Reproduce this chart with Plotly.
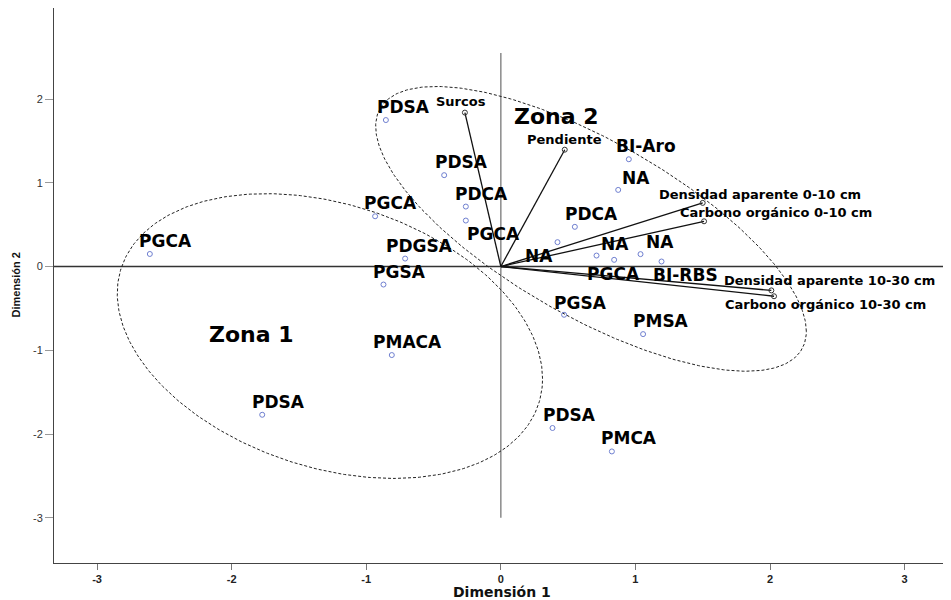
import numpy as np
import plotly.graph_objects as go

# ---------------- data ----------------
point_labels = ["PGCA", "PDSA", "PDSA", "PDCA", "PGCA", "PGCA", "PDGSA", "PGSA",
                "PMACA", "PDSA", "PDSA", "PMCA", "PGSA", "PMSA", "BI-Aro", "NA",
                "PDCA", "NA", "NA", "PGCA", "NA", "BI-RBS"]
dim1 = [-2.608, -0.854, -0.421, -0.260, -0.260, -0.934, -0.711, -0.872,
        -0.810, -1.773, 0.384, 0.825, 0.470, 1.057, 0.951, 0.872,
        0.550, 0.421, 0.711, 0.842, 1.038, 1.194]
dim2 = [0.150, 1.749, 1.091, 0.716, 0.549, 0.600, 0.095, -0.215,
        -1.057, -1.770, -1.928, -2.208, -0.576, -0.807, 1.281, 0.915,
        0.474, 0.291, 0.131, 0.080, 0.148, 0.060]

var_labels = ["Surcos", "Pendiente", "Densidad aparente 0-10 cm",
              "Carbono orgánico 0-10 cm", "Densidad aparente 10-30 cm",
              "Carbono orgánico 10-30 cm"]
var_dim1 = [-0.267, 0.475, 1.50, 1.51, 2.01, 2.03]
var_dim2 = [1.838, 1.395, 0.76, 0.54, -0.285, -0.355]

zone_labels = ["Zona 1", "Zona 2"]
zone_cx = [-1.27, 0.67]
zone_cy = [-0.83, 0.45]
zone_hw = [1.58, 1.60]
zone_hh = [1.70, 1.70]
zone_rho = [-0.30, -0.72]
zone_text_x = [-2.18, 0.082]
zone_text_y = [-0.815, 1.796]

x_ticks = [-3, -2, -1, 0, 1, 2, 3]
y_ticks = [-3, -2, -1, 0, 1, 2]

# ---------------- label placement (pixels: dx to left edge, dy, anchor) ----------------
point_label_offsets = [
    (-12, 6, "b"), (-10, 6, "b"), (-10, 6, "b"), (-12, 6, "b"), (0, 5, "t"),
    (-12, 6, "b"), (-20, 6, "b"), (-11, 6, "b"), (-20, 6, "b"), (-11, 6, "b"),
    (-11, 6, "b"), (-12, 6, "b"), (-11, 5, "b"), (-11, 6, "b"), (-14, 6, "b"),
    (3, 5, "b"), (-11, 6, "b"), (-33, 6, "t"), (3, 5, "b"), (-28, 6, "t"),
    (4, 5, "b"), (-10, 5, "t"),
]
var_label_offsets = [
    ("center", -4, 2, "bottom"), ("center", 0, 1, "bottom"),
    ("left", -46, -1, "bottom"), ("left", -26, -1, "bottom"),
    ("left", -49, 0, "bottom"), ("left", -51, 1, "top"),
]

PT_FONT = dict(family="DejaVu Sans", size=17, color="#000", weight="bold")
VAR_FONT = dict(family="DejaVu Sans", size=13, color="#000", weight="bold")

fig = go.Figure()

# zone ellipses
t = np.linspace(0, 2 * np.pi, 361)
for cx, cy, hw, hh, rho in zip(zone_cx, zone_cy, zone_hw, zone_hh, zone_rho):
    ex = cx + hw * np.cos(t)
    ey = cy + hh * (rho * np.cos(t) + np.sqrt(1 - rho ** 2) * np.sin(t))
    fig.add_trace(go.Scatter(x=ex, y=ey, mode="lines", hoverinfo="skip",
                             line=dict(color="#222", width=1, dash="3px,2px"),
                             showlegend=False))

# variable vectors
for vx, vy in zip(var_dim1, var_dim2):
    fig.add_trace(go.Scatter(x=[0, vx], y=[0, vy], mode="lines",
                             line=dict(color="#111", width=1.3),
                             showlegend=False, hoverinfo="skip"))
fig.add_trace(go.Scatter(x=var_dim1, y=var_dim2, mode="markers",
                         marker=dict(symbol="circle-open", size=5,
                                     color="#333", line=dict(width=1)),
                         text=var_labels, showlegend=False))

# object points
fig.add_trace(go.Scatter(x=dim1, y=dim2, mode="markers",
                         marker=dict(symbol="circle-open", size=5,
                                     color="#6f7fd0", line=dict(width=1)),
                         text=point_labels, showlegend=False))

annotations = []
for lab, px, py, (dx, dy, anc) in zip(point_labels, dim1, dim2, point_label_offsets):
    if anc == "b":
        ys = dy - 5
        ya = "bottom"
    else:
        ys = -(dy - 4)
        ya = "top"
    annotations.append(dict(x=px, y=py, xref="x", yref="y", text=lab,
                            showarrow=False, xanchor="left", yanchor=ya,
                            xshift=dx - 1, yshift=ys, font=PT_FONT))
for lab, vx, vy, (xa, dx, dy, ya) in zip(var_labels, var_dim1, var_dim2, var_label_offsets):
    annotations.append(dict(x=vx, y=vy, xref="x", yref="y", text=lab,
                            showarrow=False, xanchor=xa, yanchor=ya,
                            xshift=dx, yshift=dy, font=VAR_FONT))
for lab, zx, zy in zip(zone_labels, zone_text_x, zone_text_y):
    annotations.append(dict(x=zx, y=zy, xref="x", yref="y", text=lab,
                            showarrow=False, xanchor="left", yanchor="middle",
                            font=dict(family="DejaVu Sans", size=22,
                                      color="#000", weight="bold")))
# axis titles
annotations.append(dict(x=0.5, y=0, xref="paper", yref="paper", text="Dimensión 1",
                        showarrow=False, xanchor="center", yanchor="top", yshift=-19,
                        font=dict(family="DejaVu Sans", size=14, color="#111",
                                  weight="bold")))
annotations.append(dict(x=0, y=0.5, xref="paper", yref="paper", text="Dimensión 2",
                        showarrow=False, xanchor="center", yanchor="middle",
                        xshift=-39, textangle=-90,
                        font=dict(family="Liberation Sans", size=11, color="#111",
                                  weight="bold")))

shapes = [
    dict(type="line", xref="paper", yref="y", x0=0, x1=1, y0=0, y1=0,
         line=dict(color="#333", width=1.5), layer="below"),
    dict(type="line", xref="x", yref="y", x0=0, x1=0, y0=-3.0, y1=2.55,
         line=dict(color="#8a8a8a", width=1.5), layer="below"),
]

fig.update_layout(
    width=943, height=592,
    margin=dict(l=46, r=2, t=0, b=37),
    paper_bgcolor="white", plot_bgcolor="white",
    showlegend=False,
    annotations=annotations, shapes=shapes,
    xaxis=dict(range=[-3.32, 3.33], tickvals=x_ticks,
               ticktext=[str(v) for v in x_ticks], showgrid=False,
               zeroline=False, showline=True, linecolor="#444", linewidth=1,
               mirror=True, ticks="outside", ticklen=6, tickcolor="#777",
               tickfont=dict(family="Liberation Sans", size=11, color="#222",
                             weight="bold")),
    yaxis=dict(range=[-3.54, 3.087], tickvals=y_ticks,
               ticktext=[str(v) for v in y_ticks], showgrid=False,
               zeroline=False, showline=True, linecolor="#444", linewidth=1,
               mirror=True, ticks="outside", ticklen=8, tickcolor="#999",
               tickfont=dict(family="Liberation Sans", size=11, color="#333")),
)

fig.write_html("out.html")
